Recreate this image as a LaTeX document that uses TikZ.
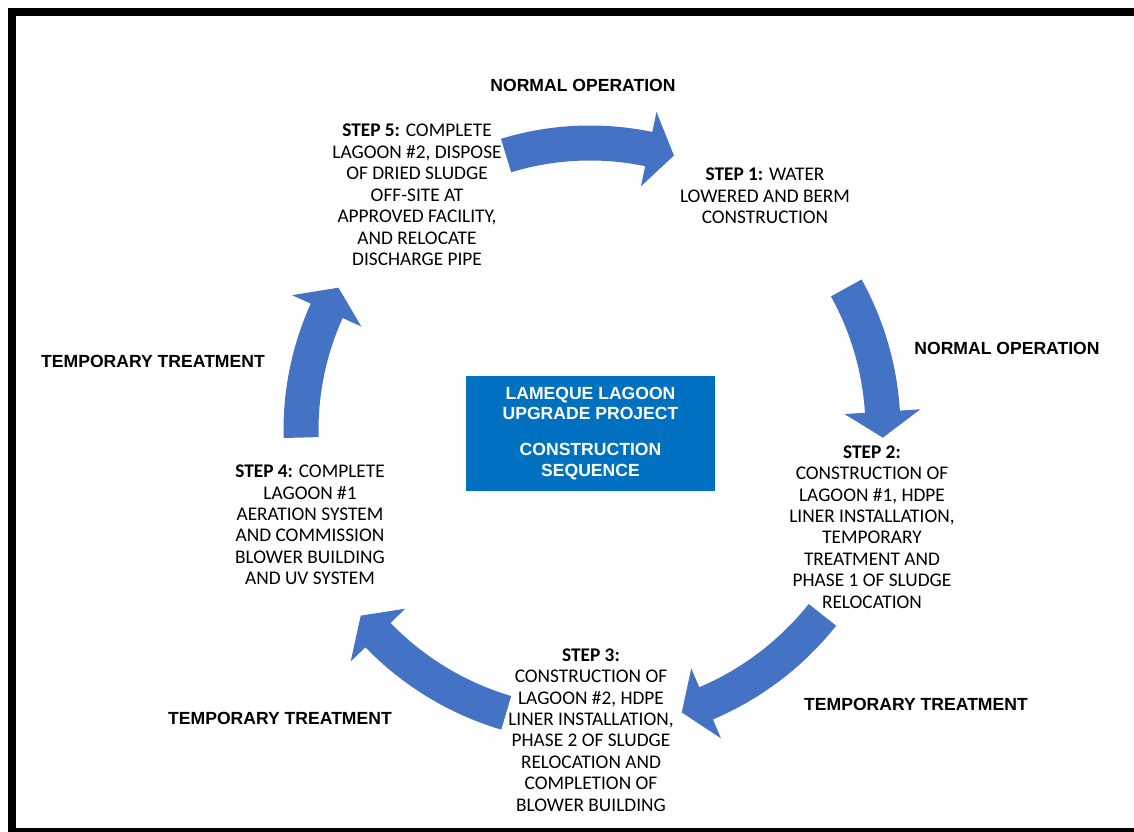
\documentclass[tikz,border=0pt]{standalone}
\usepackage{fontspec}
\setmainfont{Carlito}
\newfontfamily\labelfont{Liberation Sans}
\usetikzlibrary{calc}
\definecolor{arrowblue}{HTML}{4472C4}
\definecolor{titleblue}{HTML}{0070C0}
\tikzset{
  stepnote/.style={align=center, font=\fontsize{11}{12.2}\selectfont},
  phase/.style={font=\labelfont\bfseries\fontsize{10}{12}\selectfont},
  titlebox/.style={fill=titleblue, text=white, align=center,
    minimum width=4.98cm, minimum height=2.3cm,
    font=\labelfont\bfseries\fontsize{10}{11.9}\selectfont},
}
% bent block arrow round the hub: tail angle, tip angle, radius
\newcommand{\cyclearrow}[3]{%
  \pgfmathsetmacro\headang{#2+26/#3*180/pi}
  \fill[arrowblue] ($(hub)+({#1}:{#3+17.5})$)
    arc[start angle=#1, end angle=\headang, radius=#3+17.5]
    -- ($(hub)+({\headang}:{#3+38})$) -- ($(hub)+({#2}:{#3})$)
    -- ($(hub)+({\headang}:{#3-38})$) -- ($(hub)+({\headang}:{#3-17.5})$)
    arc[start angle=\headang, end angle=#1, radius=#3-17.5] -- cycle;
}
\begin{document}
\begin{tikzpicture}[x=0.02cm, y=0.02cm]
\useasboundingbox (0,0) rectangle (1134,832);
\clip (0,0) rectangle (1134,832);
\draw[line width=0.16cm] (12,0) rectangle (1140,820);
\coordinate (hub) at (590,402);

% the five arrows of the cycle
\cyclearrow{107}{73}{287}
\cyclearrow{29}{-1.5}{293}
\cyclearrow{-38.5}{-72}{297}
\cyclearrow{-106.5}{-141}{295}
\cyclearrow{181.5}{150.5}{289}

\node[titlebox] (title) at (590.5,398.5) {LAMEQUE LAGOON\\UPGRADE PROJECT\\[8.5pt]CONSTRUCTION\\SEQUENCE};

\node[stepnote] (step1) at (765,636) {\textbf{STEP 1:} WATER\\LOWERED AND BERM\\CONSTRUCTION};
\node[stepnote] (step2) at (872,305) {\textbf{STEP 2:}\\CONSTRUCTION OF\\LAGOON \#1, HDPE\\LINER INSTALLATION,\\TEMPORARY\\TREATMENT AND\\PHASE 1 OF SLUDGE\\RELOCATION};
\node[stepnote] (step3) at (591,102) {\textbf{STEP 3:}\\CONSTRUCTION OF\\LAGOON \#2, HDPE\\LINER INSTALLATION,\\PHASE 2 OF SLUDGE\\RELOCATION AND\\COMPLETION OF\\BLOWER BUILDING};
\node[stepnote] (step4) at (310,307) {\textbf{STEP 4:} COMPLETE\\LAGOON \#1\\AERATION SYSTEM\\AND COMMISSION\\BLOWER BUILDING\\AND UV SYSTEM};
\node[stepnote] (step5) at (417,637) {\textbf{STEP 5:} COMPLETE\\LAGOON \#2, DISPOSE\\OF DRIED SLUDGE\\OFF-SITE AT\\APPROVED FACILITY,\\AND RELOCATE\\DISCHARGE PIPE};

\node[phase] (normal51) at (583,747) {NORMAL OPERATION};
\node[phase] (normal12) at (1007,484) {NORMAL OPERATION};
\node[phase] (temp23) at (916,128) {TEMPORARY TREATMENT};
\node[phase] (temp34) at (280,114) {TEMPORARY TREATMENT};
\node[phase] (temp45) at (153,471) {TEMPORARY TREATMENT};
\end{tikzpicture}
\end{document}
